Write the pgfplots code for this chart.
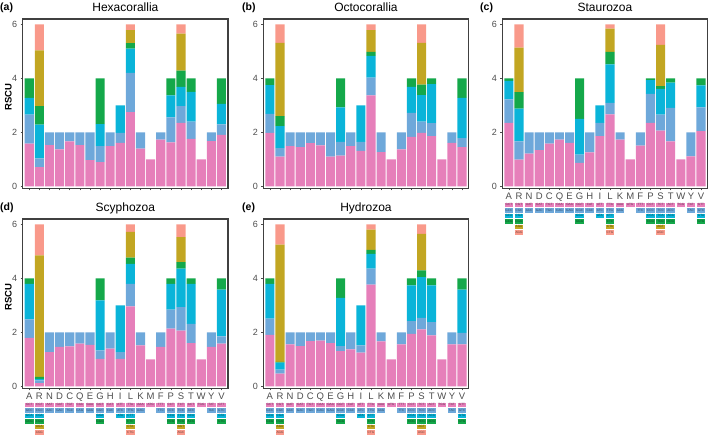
\documentclass[border=0pt]{standalone}
\usepackage{fontspec}
\setmainfont{Liberation Sans}
\usepackage{pgfplots}
\pgfplotsset{compat=1.18}
\usepackage{pgfplotstable}
\definecolor{cA}{HTML}{E67FBA}
\definecolor{cB}{HTML}{6EA8DA}
\definecolor{cC}{HTML}{0AB4D9}
\definecolor{cD}{HTML}{14A84A}
\definecolor{cE}{HTML}{C2A622}
\definecolor{cF}{HTML}{F9998A}
\definecolor{axgray}{HTML}{4D4D4D}
\setlength{\fboxsep}{0pt}
\newcommand{\rowbox}[2]{\vskip0.9pt\hbox to 10pt{\hss\colorbox{#1}{\makebox[8.6pt]{\vrule height 3.3pt depth 1.3pt width 0pt\fontsize{3.1}{3.1}\selectfont\textcolor{#1!45!black}{#2}}}\hss}}
\newcommand{\rA}[1]{\rowbox{cA}{#1}}
\newcommand{\rB}[1]{\rowbox{cB}{#1}}
\newcommand{\rC}[1]{\rowbox{cC}{#1}}
\newcommand{\rD}[1]{\rowbox{cD}{#1}}
\newcommand{\rE}[1]{\rowbox{cE}{#1}}
\newcommand{\rF}[1]{\rowbox{cF}{#1}}
\newcommand{\lab}[2]{\vtop{\offinterlineskip\hbox to 10pt{\hss\vrule height 7pt depth 1.8pt width 0pt #1\hss}#2}}

\pgfplotstableread{
x c1 c2 c3 c4 c5 c6
0 1.58 1.08 0.62 0.72 0 0
1 0.71 0.33 1.25 0.68 2.07 0.96
2 1.53 0.47 0 0 0 0
3 1.37 0.63 0 0 0 0
4 1.67 0.33 0 0 0 0
5 1.53 0.47 0 0 0 0
6 0.97 1.03 0 0 0 0
7 0.90 0.59 0.82 1.69 0 0
8 1.49 0.51 0 0 0 0
9 1.61 0.37 1.02 0 0 0
10 2.75 1.45 0.90 0.21 0.48 0.21
11 1.40 0.60 0 0 0 0
12 1.00 0 0 0 0 0
13 1.73 0.27 0 0 0 0
14 1.63 0.93 0.81 0.63 0 0
15 2.35 0.62 0.72 0.60 1.37 0.34
16 1.76 0.64 1.10 0.50 0 0
17 1.00 0 0 0 0 0
18 1.68 0.32 0 0 0 0
19 1.91 0.39 0.76 0.94 0 0
}\hexa

\pgfplotstableread{
x c1 c2 c3 c4 c5 c6
0 1.98 0.71 1.06 0.25 0 0
1 1.10 0.32 0.81 0.37 2.72 0.68
2 1.49 0.51 0 0 0 0
3 1.45 0.55 0 0 0 0
4 1.60 0.40 0 0 0 0
5 1.52 0.48 0 0 0 0
6 1.10 0.90 0 0 0 0
7 1.14 0.51 1.28 1.07 0 0
8 1.49 0.51 0 0 0 0
9 1.32 0.33 1.35 0 0 0
10 3.37 0.66 0.80 0.15 0.81 0.21
11 1.27 0.73 0 0 0 0
12 1.00 0 0 0 0 0
13 1.37 0.63 0 0 0 0
14 1.83 0.89 0.97 0.31 0 0
15 1.98 0.42 0.98 0.39 1.55 0.68
16 1.86 0.48 1.45 0.21 0 0
17 1.00 0 0 0 0 0
18 1.61 0.39 0 0 0 0
19 1.45 0.34 1.49 0.72 0 0
}\octo

\pgfplotstableread{
x c1 c2 c3 c4 c5 c6
0 2.35 0.87 0.69 0.09 0 0
1 0.99 0.68 1.21 0.61 1.65 0.86
2 1.21 0.79 0 0 0 0
3 1.34 0.66 0 0 0 0
4 1.58 0.42 0 0 0 0
5 1.73 0.27 0 0 0 0
6 1.61 0.39 0 0 0 0
7 0.87 0.31 1.32 1.50 0 0
8 1.26 0.74 0 0 0 0
9 1.86 0.49 0.65 0 0 0
10 2.67 0.42 1.43 0.46 0.86 0.16
11 1.73 0.27 0 0 0 0
12 1.00 0 0 0 0 0
13 1.51 0.49 0 0 0 0
14 2.35 1.08 0.51 0.06 0 0
15 2.07 0.59 0.95 0.10 1.53 0.76
16 1.67 1.24 0.93 0.16 0 0
17 1.00 0 0 0 0 0
18 1.11 0.89 0 0 0 0
19 2.05 0.88 0.81 0.26 0 0
}\stau

\pgfplotstableread{
x c1 c2 c3 c4 c5 c6
0 1.80 0.68 1.32 0.20 0 0
1 0.12 0.10 0.06 0.07 4.50 1.15
2 1.27 0.73 0 0 0 0
3 1.46 0.54 0 0 0 0
4 1.48 0.52 0 0 0 0
5 1.58 0.42 0 0 0 0
6 1.54 0.46 0 0 0 0
7 1.02 0.31 1.86 0.81 0 0
8 1.40 0.60 0 0 0 0
9 1.02 0.25 1.73 0 0 0
10 2.96 0.84 0.74 0.23 0.95 0.28
11 1.52 0.48 0 0 0 0
12 1.00 0 0 0 0 0
13 1.46 0.54 0 0 0 0
14 2.14 0.70 0.96 0.20 0 0
15 2.07 0.87 1.42 0.24 0.93 0.47
16 1.60 0.72 1.48 0.20 0 0
17 1.00 0 0 0 0 0
18 1.46 0.54 0 0 0 0
19 1.58 0.27 1.73 0.42 0 0
}\scyp

\pgfplotstableread{
x c1 c2 c3 c4 c5 c6
0 1.91 0.60 1.29 0.20 0 0
1 0.47 0.15 0.26 0.03 4.34 0.75
2 1.56 0.44 0 0 0 0
3 1.49 0.51 0 0 0 0
4 1.68 0.32 0 0 0 0
5 1.70 0.30 0 0 0 0
6 1.60 0.40 0 0 0 0
7 1.31 0.18 1.79 0.72 0 0
8 1.37 0.63 0 0 0 0
9 1.25 0.27 1.48 0 0 0
10 3.77 0.59 0.55 0.15 0.75 0.19
11 1.67 0.33 0 0 0 0
12 1.00 0 0 0 0 0
13 1.56 0.44 0 0 0 0
14 1.95 0.47 1.32 0.26 0 0
15 2.11 0.43 1.51 0.25 1.35 0.35
16 1.89 0.49 1.36 0.26 0 0
17 1.00 0 0 0 0 0
18 1.56 0.44 0 0 0 0
19 1.56 0.42 1.60 0.42 0 0
}\hydr

\pgfplotsset{
  panel/.style={
    scale only axis, width=205.3pt, height=169.3pt,
    xmin=-0.65, xmax=19.65, ymin=-0.07, ymax=6.2,
    ybar stacked, bar width=0.9,
    ytick={0,2,4,6}, xtick={0,...,19},
    tick align=outside, major tick length=2pt,
    xtick pos=bottom, ytick pos=left,
    tick style={draw=axgray, line width=0.6pt},
    axis line style={draw=black!75, line width=1.1pt},
    yticklabel style={font=\fontsize{9}{9}\selectfont, text=axgray},
    xticklabel style={font=\fontsize{9.5}{10}\selectfont, text=axgray, inner sep=0pt, anchor=north, yshift=-2.4pt},
    /pgf/number format/assume math mode=true,
    every axis title/.style={at={(0.5,1)}, anchor=base, yshift=7.9pt, inner sep=0pt, font=\fontsize{12}{12}\selectfont},
    xticklabels={},
    every axis y label/.style={at={(axis description cs:0,0.54)}, xshift=-14.4pt, rotate=90, anchor=center, font=\bfseries\fontsize{9.5}{10}\selectfont},
    clip=false,
  },
  codonticks/.style={xticklabels={
    \lab{A}{\rA{GCT}\rB{GCC}\rC{GCA}\rD{GCG}},
    \lab{R}{\rA{CGT}\rB{CGC}\rC{CGA}\rD{CGG}\rE{AGA}\rF{AGG}},
    \lab{N}{\rA{AAT}\rB{AAC}},
    \lab{D}{\rA{GAT}\rB{GAC}},
    \lab{C}{\rA{TGT}\rB{TGC}},
    \lab{Q}{\rA{CAA}\rB{CAG}},
    \lab{E}{\rA{GAA}\rB{GAG}},
    \lab{G}{\rA{GGT}\rB{GGC}\rC{GGA}\rD{GGG}},
    \lab{H}{\rA{CAT}\rB{CAC}},
    \lab{I}{\rA{ATT}\rB{ATC}\rC{ATA}},
    \lab{L}{\rA{TTA}\rB{TTG}\rC{CTT}\rD{CTC}\rE{CTA}\rF{CTG}},
    \lab{K}{\rA{AAA}\rB{AAG}},
    \lab{M}{\rA{ATG}},
    \lab{F}{\rA{TTT}\rB{TTC}},
    \lab{P}{\rA{CCT}\rB{CCC}\rC{CCA}\rD{CCG}},
    \lab{S}{\rA{TCT}\rB{TCC}\rC{TCA}\rD{TCG}\rE{AGT}\rF{AGC}},
    \lab{T}{\rA{ACT}\rB{ACC}\rC{ACA}\rD{ACG}},
    \lab{W}{\rA{TGG}},
    \lab{Y}{\rA{TAT}\rB{TAC}},
    \lab{V}{\rA{GTT}\rB{GTC}\rC{GTA}\rD{GTG}}
  }},
}

\newcommand{\stackbars}[1]{%
  \addplot[fill=cA, draw=none] table[x=x,y=c1]{#1};
  \addplot[fill=cB, draw=none] table[x=x,y=c2]{#1};
  \addplot[fill=cC, draw=none] table[x=x,y=c3]{#1};
  \addplot[fill=cD, draw=none] table[x=x,y=c4]{#1};
  \addplot[fill=cE, draw=none] table[x=x,y=c5]{#1};
  \addplot[fill=cF, draw=none] table[x=x,y=c6]{#1};
}

\begin{document}
\begin{tikzpicture}
\path[use as bounding box] (0,0) rectangle (709pt,435pt);

\begin{axis}[panel, at={(22.7pt,246.7pt)}, anchor=south west, title={Hexacorallia}, ylabel={RSCU}]
\stackbars{\hexa}
\end{axis}

\begin{axis}[panel, at={(263.3pt,246.7pt)}, anchor=south west, title={Octocorallia}]
\stackbars{\octo}
\end{axis}

\begin{axis}[panel, codonticks, at={(502.3pt,246.7pt)}, anchor=south west, title={Staurozoa}]
\stackbars{\stau}
\end{axis}

\begin{axis}[panel, codonticks, at={(22.7pt,46.7pt)}, anchor=south west, title={Scyphozoa}, ylabel={RSCU}]
\stackbars{\scyp}
\end{axis}

\begin{axis}[panel, codonticks, at={(263.3pt,46.7pt)}, anchor=south west, title={Hydrozoa}]
\stackbars{\hydr}
\end{axis}

\node[anchor=base west, inner sep=0pt, font=\bfseries\fontsize{10.5}{11}\selectfont] at (0pt,424.5pt) {(a)};
\node[anchor=base west, inner sep=0pt, font=\bfseries\fontsize{10.5}{11}\selectfont] at (242pt,424.5pt) {(b)};
\node[anchor=base west, inner sep=0pt, font=\bfseries\fontsize{10.5}{11}\selectfont] at (480pt,424.5pt) {(c)};
\node[anchor=base west, inner sep=0pt, font=\bfseries\fontsize{10.5}{11}\selectfont] at (0pt,224.5pt) {(d)};
\node[anchor=base west, inner sep=0pt, font=\bfseries\fontsize{10.5}{11}\selectfont] at (242pt,224.5pt) {(e)};
\end{tikzpicture}
\end{document}
